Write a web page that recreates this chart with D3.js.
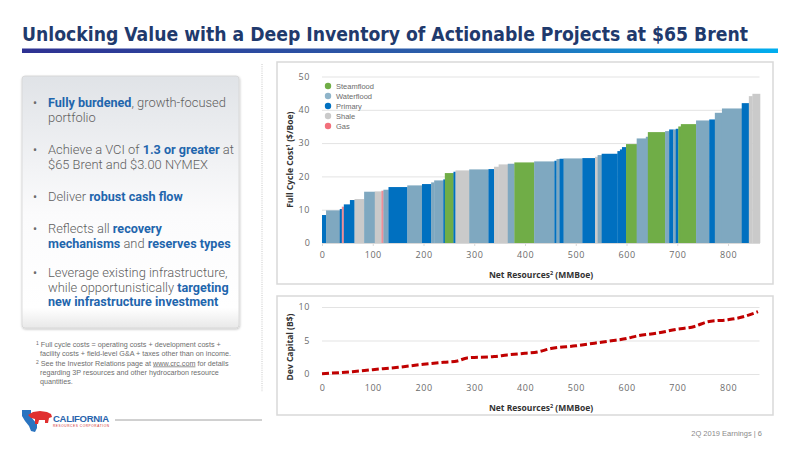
<!DOCTYPE html>
<html>
<head>
<meta charset="utf-8">
<script src="https://cdn.jsdelivr.net/npm/d3@7"></script>
<style>
  body { margin: 0; background: #fff; }
  svg { display: block; }
</style>
</head>
<body>
<div id="chart"></div>
<script>
// project blocks of the supply curve, left to right
var resourceWidths = [8, 27, 4, 4, 12, 9, 19, 21, 13, 4,
  10, 37, 29, 18, 6, 18, 3, 17, 4, 27,
  38, 11, 9, 18, 13, 39, 40, 4, 6, 8,
  37, 25, 5, 8, 31, 5, 4, 8, 21, 18,
  4, 34, 8, 8, 5, 5, 5, 30, 26, 11,
  14, 39, 14, 7, 15];
var fullCycleCost = [8.4, 9.8, 10.2, 10.9, 11.6, 12.9, 13.2, 15.4, 15.5, 15.7,
  16.0, 16.8, 17.3, 17.7, 18.2, 18.8, 19.1, 21.0, 21.4, 21.8,
  22.1, 22.2, 22.9, 23.6, 23.8, 24.2, 24.5, 24.7, 25.2, 25.3,
  25.4, 25.5, 25.9, 26.4, 26.8, 27.6, 28.1, 28.8, 29.7, 31.4,
  31.9, 33.3, 33.6, 34.1, 34.1, 34.3, 35.0, 35.7, 36.8, 37.1,
  39.1, 40.4, 42.0, 44.1, 44.8];
var projectType = ["Primary", "Waterflood", "Primary", "Gas", "Primary", "Primary", "Shale", "Waterflood", "Shale", "Gas",
  "Waterflood", "Primary", "Waterflood", "Primary", "Waterflood", "Waterflood", "Primary", "Steamflood", "Primary", "Shale",
  "Waterflood", "Primary", "Shale", "Shale", "Waterflood", "Steamflood", "Waterflood", "Primary", "Waterflood", "Primary",
  "Waterflood", "Primary", "Shale", "Waterflood", "Primary", "Primary", "Primary", "Primary", "Steamflood", "Waterflood",
  "Waterflood", "Steamflood", "Waterflood", "Primary", "Waterflood", "Primary", "Steamflood", "Steamflood", "Waterflood", "Primary",
  "Waterflood", "Waterflood", "Primary", "Shale", "Shale"];

// cumulative development capital
var capitalResources = [0, 60, 100, 150, 200, 240, 267, 286, 339, 365, 400, 425, 451, 500, 537, 570, 600, 622, 660, 697, 734, 760, 800, 820, 859];
var devCapital = [0.05, 0.35, 0.65, 1.0, 1.45, 1.75, 1.95, 2.4, 2.6, 2.85, 3.1, 3.3, 3.8, 4.2, 4.6, 4.95, 5.3, 5.7, 6.1, 6.65, 7.1, 7.8, 8.1, 8.35, 9.3];

var legendTypes = ["Steamflood", "Waterflood", "Primary", "Shale", "Gas"];
var xTicks = [0, 100, 200, 300, 400, 500, 600, 700, 800];
var costTicks = [0, 10, 20, 30, 40, 50];
var capitalTicks = [0, 5, 10];

var typeColor = d3.scaleOrdinal()
  .domain(legendTypes)
  .range(["#70ad47", "#7fa8c0", "#0070c0", "#cacaca", "#ec8f98"]);
var legendColor = d3.scaleOrdinal()
  .domain(legendTypes)
  .range(["#70ad47", "#8fb4c9", "#0070c0", "#cacaca", "#f2707b"]);

var svg = d3.select("#chart").append("svg")
  .attr("width", 800)
  .attr("height", 450);

var defs = svg.append("defs");
var rule = defs.append("linearGradient").attr("id", "rule");
rule.append("stop").attr("offset", "0%").attr("stop-color", "#2e3192");
rule.append("stop").attr("offset", "60%").attr("stop-color", "#2a63ad");
rule.append("stop").attr("offset", "100%").attr("stop-color", "#00aeef");

var panel = defs.append("linearGradient").attr("id", "panel")
  .attr("x1", 0).attr("y1", 0).attr("x2", 0).attr("y2", 1);
panel.append("stop").attr("offset", "0%").attr("stop-color", "#e0e3e7");
panel.append("stop").attr("offset", "55%").attr("stop-color", "#fbfbfc");
panel.append("stop").attr("offset", "92%").attr("stop-color", "#ffffff");
panel.append("stop").attr("offset", "100%").attr("stop-color", "#e8e8e8");

var shadow = defs.append("filter").attr("id", "shadow")
  .attr("x", "-5%").attr("y", "-5%").attr("width", "110%").attr("height", "110%");
shadow.append("feDropShadow").attr("dx", 0.5).attr("dy", 1).attr("stdDeviation", 1.2)
  .attr("flood-color", "#000").attr("flood-opacity", 0.25);

// title
svg.append("text")
  .attr("x", 22)
  .attr("y", 41)
  .attr("font-family", "'Liberation Sans Narrow', 'DejaVu Sans Condensed', sans-serif")
  .attr("font-weight", "bold")
  .attr("font-size", "20px")
  .attr("fill", "#1f3a6d")
  .attr("textLength", 726)
  .attr("lengthAdjust", "spacingAndGlyphs")
  .text("Unlocking Value with a Deep Inventory of Actionable Projects at $65 Brent");

svg.append("rect")
  .attr("x", 22).attr("y", 48.5)
  .attr("width", 756).attr("height", 4.5)
  .attr("fill", "url(#rule)");

// left panel
svg.append("rect")
  .attr("x", 22).attr("y", 76)
  .attr("width", 217).attr("height", 252)
  .attr("rx", 3)
  .attr("fill", "url(#panel)")
  .attr("stroke", "#d4d4d4")
  .attr("stroke-width", 0.8)
  .attr("filter", "url(#shadow)");

var bullets = [
  { y: 107, lines: [[["Fully burdened", true], [", growth-focused", false]], [["portfolio", false]]] },
  { y: 154, lines: [[["Achieve a VCI of ", false], ["1.3 or greater", true], [" at", false]], [["$65 Brent and $3.00 NYMEX", false]]] },
  { y: 201, lines: [[["Deliver ", false], ["robust cash flow", true]]] },
  { y: 233, lines: [[["Reflects all ", false], ["recovery", true]], [["mechanisms", true], [" and ", false], ["reserves types", true]]] },
  { y: 277, lines: [[["Leverage existing infrastructure,", false]], [["while opportunistically ", false], ["targeting", true]], [["new infrastructure investment", true]]] }
];

var bulletGroup = svg.append("g")
  .attr("font-family", "Roboto, 'Liberation Sans', sans-serif")
  .attr("font-size", "12.9px");

bullets.forEach(function(b) {
  bulletGroup.append("text")
    .attr("x", 33).attr("y", b.y)
    .attr("fill", "#6b6b6b")
    .attr("font-size", "12px")
    .text("•");
  b.lines.forEach(function(line, i) {
    var t = bulletGroup.append("text")
      .attr("x", 48)
      .attr("y", b.y + i * 14.5);
    line.forEach(function(part) {
      t.append("tspan")
        .attr("fill", part[1] ? "#1f66ad" : "#5f5f5f")
        .attr("font-weight", part[1] ? "bold" : 300)
        .attr("font-size", part[1] ? "12.6px" : "12.9px")
        .text(part[0]);
    });
  });
});

// footnotes
var notes = svg.append("g")
  .attr("font-family", "'Liberation Sans', Arial, sans-serif")
  .attr("font-size", "7.2px")
  .attr("fill", "#6e6e6e");
notes.append("text").attr("x", 36).attr("y", 347)
  .html("<tspan font-size='5px' dy='-2'>1</tspan><tspan dy='2'> Full cycle costs = operating costs + development costs +</tspan>");
notes.append("text").attr("x", 40).attr("y", 356)
  .text("facility costs + field-level G&A + taxes other than on income.");
notes.append("text").attr("x", 36).attr("y", 365.5)
  .html("<tspan font-size='5px' dy='-2'>2</tspan><tspan dy='2'> See the Investor Relations page at </tspan><tspan text-decoration='underline'>www.crc.com</tspan><tspan> for details</tspan>");
notes.append("text").attr("x", 40).attr("y", 374.5)
  .text("regarding 3P resources and other hydrocarbon resource");
notes.append("text").attr("x", 40).attr("y", 383.5)
  .text("quantities.");

// logo
var logo = svg.append("g");
logo.append("path")
  .attr("d", "M22,410 L31,410 L31,417 L37,424 L37,428 L35,432 L31,431 L29,426 L25,421 L22,416 Z")
  .attr("fill", "#2a74c0");
logo.append("path")
  .attr("d", "M28,415 L33,412 L40,411 L47,412 L51,414 L52,417 L49,418 L48,423 L45,423 L45,420 L39,420 L38,424 L35,424 L35,419 L31,418 Z")
  .attr("fill", "#e02f2f");
logo.append("text")
  .attr("x", 53).attr("y", 422)
  .attr("font-family", "'Liberation Sans', Arial, sans-serif")
  .attr("font-weight", "bold")
  .attr("font-size", "9.5px")
  .attr("fill", "#2864ad")
  .attr("textLength", 56)
  .text("CALIFORNIA");
logo.append("text")
  .attr("x", 53).attr("y", 427)
  .attr("font-family", "'Liberation Sans', Arial, sans-serif")
  .attr("font-size", "3.2px")
  .attr("fill", "#d03030")
  .attr("textLength", 56)
  .text("RESOURCES CORPORATION");
svg.append("line")
  .attr("x1", 115).attr("x2", 262)
  .attr("y1", 420).attr("y2", 420)
  .attr("stroke", "#8c8c8c").attr("stroke-width", 0.8);

svg.append("text")
  .attr("x", 762).attr("y", 436)
  .attr("text-anchor", "end")
  .attr("font-family", "'Liberation Sans', Arial, sans-serif")
  .attr("font-size", "7.5px")
  .attr("fill", "#8a8a8a")
  .text("2Q 2019 Earnings | 6");

// separator
svg.append("line")
  .attr("x1", 262).attr("x2", 262)
  .attr("y1", 64).attr("y2", 392)
  .attr("stroke", "#c8c8c8")
  .attr("stroke-width", 1)
  .attr("stroke-dasharray", "1,1.2");

// chart frames
[[62, 222], [296, 119]].forEach(function(f) {
  svg.append("rect")
    .attr("x", 277).attr("y", f[0])
    .attr("width", 496).attr("height", f[1])
    .attr("fill", "#fff")
    .attr("stroke", "#d9d9d9")
    .attr("stroke-width", 1.5);
});

var xScale = d3.scaleLinear().domain([0, 862]).range([322, 759.5]);
var yCost = d3.scaleLinear().domain([0, 50]).range([243, 76.5]);
var yCapital = d3.scaleLinear().domain([0, 10]).range([374, 307]);

var tickFont = "'Open Sans', 'Noto Sans', sans-serif";
var titleFont = "'Open Sans', 'Noto Sans', sans-serif";

function styleAxis(g) {
  g.select(".domain").attr("stroke", "#d9d9d9");
  g.selectAll(".tick line").attr("stroke", "#d9d9d9");
  g.selectAll(".tick text")
    .attr("fill", "#6b6b6b")
    .attr("font-family", tickFont)
    .attr("font-size", "9px")
    .attr("letter-spacing", "0.6px");
}

function drawGrid(yScale, ticks) {
  svg.append("g")
    .attr("transform", "translate(" + xScale(0) + ",0)")
    .call(d3.axisLeft(yScale).tickValues(ticks).tickSize(-(xScale(862) - xScale(0))).tickFormat(""))
    .call(function(g) {
      g.select(".domain").remove();
      g.selectAll(".tick line").attr("stroke", "#e3e3e3");
    });
  svg.append("g")
    .attr("transform", "translate(" + (xScale(0) - 8) + ",0)")
    .call(d3.axisLeft(yScale).tickValues(ticks).tickSize(0).tickPadding(4))
    .call(function(g) { g.select(".domain").remove(); })
    .call(styleAxis);
}

// ---- top chart: full cycle cost supply curve
drawGrid(yCost, costTicks.slice(1));
svg.append("text")
  .attr("x", xScale(0) - 12).attr("y", yCost(0))
  .attr("dy", "0.32em")
  .attr("text-anchor", "end")
  .attr("fill", "#6b6b6b")
  .attr("font-family", tickFont)
  .attr("font-size", "9px")
  .text(costTicks[0]);

var starts = [0].concat(Array.from(d3.cumsum(resourceWidths)));
var blocks = resourceWidths.map(function(w, i) {
  return { start: starts[i], width: w, cost: fullCycleCost[i], type: projectType[i] };
});

svg.append("g")
  .selectAll("rect")
  .data(blocks)
  .enter()
  .append("rect")
  .attr("x", function(d) { return xScale(d.start); })
  .attr("y", function(d) { return yCost(d.cost); })
  .attr("width", function(d) { return xScale(d.start + d.width) - xScale(d.start) + 0.3; })
  .attr("height", function(d) { return yCost(0) - yCost(d.cost); })
  .attr("fill", function(d) { return typeColor(d.type); });

svg.append("g")
  .attr("transform", "translate(0," + yCost(0) + ")")
  .call(d3.axisBottom(xScale).tickValues(xTicks).tickSize(3).tickPadding(6).tickSizeOuter(0))
  .call(styleAxis);

svg.append("text")
  .attr("transform", "translate(293," + yCost(25) + ") rotate(-90)")
  .attr("text-anchor", "middle")
  .attr("font-family", titleFont)
  .attr("font-weight", "bold")
  .attr("font-size", "8.5px")
  .attr("fill", "#333")
  .html("Full Cycle Cost<tspan font-size='5.5px' dy='-3'>1</tspan><tspan dy='3'> ($/Boe)</tspan>");

svg.append("text")
  .attr("x", 541).attr("y", 278)
  .attr("text-anchor", "middle")
  .attr("font-family", titleFont)
  .attr("font-weight", "bold")
  .attr("font-size", "8.5px")
  .attr("fill", "#333")
  .html("Net Resources<tspan font-size='5.5px' dy='-3'>2</tspan><tspan dy='3'> (MMBoe)</tspan>");

var legend = svg.append("g")
  .selectAll("g")
  .data(legendTypes)
  .enter()
  .append("g")
  .attr("transform", function(d, i) { return "translate(328," + (86 + i * 10) + ")"; });
legend.append("circle")
  .attr("r", 3.2)
  .attr("fill", function(d) { return legendColor(d); });
legend.append("text")
  .attr("x", 8)
  .attr("dy", "0.35em")
  .attr("font-family", "'Liberation Sans', Arial, sans-serif")
  .attr("font-size", "7.5px")
  .attr("fill", "#6b6b6b")
  .text(function(d) { return d; });

// ---- bottom chart: cumulative dev capital
drawGrid(yCapital, capitalTicks);

var capitalLine = d3.line()
  .x(function(d, i) { return xScale(capitalResources[i]); })
  .y(function(d) { return yCapital(d); })
  .curve(d3.curveMonotoneX);

svg.append("path")
  .datum(devCapital)
  .attr("d", capitalLine)
  .attr("fill", "none")
  .attr("stroke", "#c00000")
  .attr("stroke-width", 3)
  .attr("stroke-dasharray", "7,3");

svg.append("g")
  .attr("transform", "translate(0," + 383 + ")")
  .call(d3.axisBottom(xScale).tickValues(xTicks).tickSize(0).tickPadding(2))
  .call(function(g) { g.select(".domain").remove(); })
  .call(styleAxis);

svg.append("text")
  .attr("transform", "translate(293," + 347 + ") rotate(-90)")
  .attr("text-anchor", "middle")
  .attr("font-family", titleFont)
  .attr("font-weight", "bold")
  .attr("font-size", "8.5px")
  .attr("fill", "#333")
  .text("Dev Capital (B$)");

svg.append("text")
  .attr("x", 541).attr("y", 411)
  .attr("text-anchor", "middle")
  .attr("font-family", titleFont)
  .attr("font-weight", "bold")
  .attr("font-size", "8.5px")
  .attr("fill", "#333")
  .html("Net Resources<tspan font-size='5.5px' dy='-3'>2</tspan><tspan dy='3'> (MMBoe)</tspan>");
</script>
</body>
</html>
